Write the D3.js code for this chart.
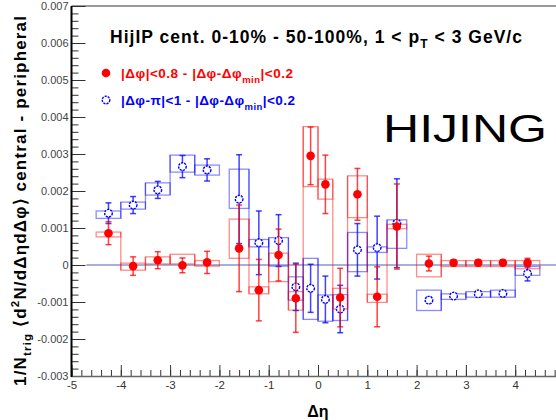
<!DOCTYPE html>
<html>
<head>
<meta charset="utf-8">
<script src="https://cdn.jsdelivr.net/npm/d3@7/dist/d3.min.js"></script>
<style>
  html, body { margin: 0; padding: 0; background: #fff; }
  svg { display: block; font-family: "Liberation Sans", Arial, Helvetica, sans-serif; }
</style>
</head>
<body>
<svg id="chart" width="556" height="420"></svg>
<script>
// Δη bins (low / high edges) and the point positions inside them
const etaLo  = [-4.5, -4.0, -3.5, -3.0, -2.5, -1.8, -1.4, -1.0, -0.6, -0.3, 0.0, 0.3, 0.6, 1.0, 1.4, 2.0, 2.5, 3.0, 3.5, 4.0];
const etaHi  = [-4.0, -3.5, -3.0, -2.5, -2.0, -1.4, -1.0, -0.6, -0.3, 0.0, 0.3, 0.6, 1.0, 1.4, 1.8, 2.5, 3.0, 3.5, 4.0, 4.5];
const etaPts = [-4.25, -3.75, -3.25, -2.75, -2.25, -1.6, -1.2, -0.8, -0.45, -0.15, 0.15, 0.45, 0.8, 1.2, 1.6, 2.25, 2.75, 3.25, 3.75, 4.25];

// |Δφ|<0.8 (near side) : value, stat. error, systematic band low / high
const nearVal = [0.00086, -0.00003, 0.00013, -0.00001, 0.00007, 0.00045, -0.00068, 0.00027, -0.00090, 0.00295, 0.00218, -0.00088, 0.00191, -0.00086, 0.00104, 0.00004, 0.00006, 0.00006, 0.00006, 0.00006];
const nearErr = [0.00031, 0.00025, 0.00023, 0.00020, 0.00030, 0.00117, 0.00083, 0.00070, 0.00092, 0.00078, 0.00079, 0.00079, 0.00070, 0.00081, 0.00115, 0.00020, 0.00008, 0.00008, 0.00008, 0.00012];
const nearSysLo = [0.00076, -0.00014, 0.00003, 0.00003, -0.00003, 0.00018, -0.00078, -0.00045, -0.00122, 0.00212, 0.00178, -0.00119, 0.00128, -0.00101, 0.00098, -0.00032, -0.00004, -0.00004, -0.00004, -0.00010];
const nearSysHi = [0.00089, 0.00005, 0.00022, 0.00029, 0.00012, 0.00124, -0.00059, 0.00032, -0.00072, 0.00374, 0.00232, -0.00063, 0.00241, -0.00079, 0.00110, 0.00029, 0.00012, 0.00012, 0.00012, 0.00012];

// |Δφ-π|<1 (away side)
const awayVal = [0.00140, 0.00162, 0.00203, 0.00266, 0.00257, 0.00178, 0.00060, 0.00066, -0.00059, -0.00063, -0.00093, -0.00119, 0.00041, 0.00047, 0.00113, -0.00095, -0.00084, -0.00078, -0.00077, -0.00023];
const awayErr = [0.00028, 0.00023, 0.00023, 0.00030, 0.00030, 0.00120, 0.00086, 0.00070, 0.00064, 0.00065, 0.00063, 0.00064, 0.00071, 0.00085, 0.00120, 0.00008, 0.00006, 0.00006, 0.00006, 0.00020];
const awaySysLo = [0.00126, 0.00151, 0.00189, 0.00251, 0.00243, 0.00153, 0.00049, -0.00003, -0.00095, -0.00147, -0.00152, -0.00150, -0.00018, 0.00034, 0.00045, -0.00123, -0.00093, -0.00087, -0.00087, -0.00028];
const awaySysHi = [0.00146, 0.00170, 0.00222, 0.00297, 0.00270, 0.00259, 0.00069, 0.00074, -0.00032, 0.00018, -0.00081, -0.00080, 0.00088, 0.00049, 0.00122, -0.00068, -0.00078, -0.00072, -0.00068, -0.00004];

// axis ticks
const xTicks = [-5, -4, -3, -2, -1, 0, 1, 2, 3, 4];
const yTicks = [-0.003, -0.002, -0.001, 0, 0.001, 0.002, 0.003, 0.004, 0.005, 0.006, 0.007];
const zeroLineEta = [-4.7, 5];

const svg = d3.select("#chart");
const x = d3.scaleLinear().domain([-5, 5]).range([71.5, 564.5]);
const y = d3.scaleLinear().domain([-0.003, 0.007]).range([376, 6]);

const RED = "#ff0000", BLUE = "#0000ff";

// ---- axes ----
const xMinor = d3.range(-5, 5.001, 0.2).map(v => +v.toFixed(1));
const yMinor = d3.range(-0.003, 0.00700001, 0.0002).map(v => +v.toFixed(4));

const gx = svg.append("g").attr("transform", "translate(0,376)");
gx.call(d3.axisBottom(x).tickValues(xMinor).tickSizeInner(-6).tickSizeOuter(0).tickFormat(""));
gx.call(g => g.select(".domain").remove());
const gx2 = svg.append("g").attr("transform", "translate(0,376)");
gx2.call(d3.axisBottom(x).tickValues(xTicks).tickSizeInner(-11).tickSizeOuter(0).tickPadding(5)
  .tickFormat(d => String(d)));
gx2.call(g => g.select(".domain").remove());
svg.selectAll("g .tick line").attr("stroke", "#333").attr("stroke-width", 1);
gx2.selectAll("text").attr("font-size", 11.5).attr("fill", "#333");

const gy = svg.append("g").attr("transform", "translate(71.5,0)");
gy.call(d3.axisLeft(y).tickValues(yMinor).tickSizeInner(-7).tickSizeOuter(0).tickFormat(""));
gy.call(g => g.select(".domain").remove());
const gy2 = svg.append("g").attr("transform", "translate(71.5,0)");
gy2.call(d3.axisLeft(y).tickValues(yTicks).tickSizeInner(-14).tickSizeOuter(0).tickPadding(3)
  .tickFormat(d => d === 0 ? "0" : d.toFixed(3)));
gy2.call(g => g.select(".domain").remove());
gy.selectAll(".tick line").attr("stroke", "#333");
gy2.selectAll(".tick line").attr("stroke", "#333");
gy2.selectAll("text").attr("font-size", 11).attr("fill", "#444");

// frame lines
svg.append("line").attr("x1", 71.5).attr("x2", 556).attr("y1", 376.5).attr("y2", 376.5)
  .attr("stroke", "#666").attr("stroke-width", 1.5);
svg.append("line").attr("x1", 71.5).attr("x2", 556).attr("y1", 6).attr("y2", 6)
  .attr("stroke", "#333").attr("stroke-width", 1);
svg.append("line").attr("x1", 71.5).attr("x2", 71.5).attr("y1", 6).attr("y2", 377)
  .attr("stroke", "#000").attr("stroke-width", 2);

// zero reference line
svg.append("line")
  .attr("x1", x(zeroLineEta[0])).attr("x2", x(zeroLineEta[1]))
  .attr("y1", y(0)).attr("y2", y(0))
  .attr("stroke", "#5060b8").attr("stroke-width", 1.2);

// ---- systematic boxes: per-bin outline plus step connectors between adjacent bins ----
function drawSys(lo, hi, color) {
  const g = svg.append("g").attr("fill", "none").attr("stroke", color)
    .attr("stroke-opacity", 0.45).attr("stroke-width", 1.3);
  g.selectAll("rect").data(etaLo.map((_, i) => i)).join("rect")
    .attr("x", i => x(etaLo[i])).attr("width", i => x(etaHi[i]) - x(etaLo[i]))
    .attr("y", i => y(hi[i])).attr("height", i => y(lo[i]) - y(hi[i]));
  const joins = d3.range(etaLo.length - 1).filter(i => Math.abs(etaHi[i] - etaLo[i + 1]) < 1e-9);
  g.selectAll("line").data(joins).join("line")
    .attr("x1", i => x(etaHi[i])).attr("x2", i => x(etaHi[i]))
    .attr("y1", i => y(Math.max(hi[i], hi[i + 1], lo[i], lo[i + 1])))
    .attr("y2", i => y(Math.min(hi[i], hi[i + 1], lo[i], lo[i + 1])));
}
drawSys(awaySysLo, awaySysHi, BLUE);
drawSys(nearSysLo, nearSysHi, RED);

// ---- statistical error bars and markers ----
function drawPoints(val, err, color, open) {
  const g = svg.append("g");
  const idx = val.map((_, i) => i);
  const eg = g.append("g").attr("stroke", color).attr("stroke-opacity", 0.75).attr("stroke-width", 1.5);
  eg.selectAll("line.bar").data(idx).join("line").attr("class", "bar")
    .attr("x1", i => x(etaPts[i])).attr("x2", i => x(etaPts[i]))
    .attr("y1", i => y(val[i] + err[i])).attr("y2", i => y(val[i] - err[i]));
  eg.selectAll("line.capT").data(idx).join("line").attr("class", "capT")
    .attr("x1", i => x(etaPts[i]) - 3).attr("x2", i => x(etaPts[i]) + 3)
    .attr("y1", i => y(val[i] + err[i])).attr("y2", i => y(val[i] + err[i]));
  eg.selectAll("line.capB").data(idx).join("line").attr("class", "capB")
    .attr("x1", i => x(etaPts[i]) - 3).attr("x2", i => x(etaPts[i]) + 3)
    .attr("y1", i => y(val[i] - err[i])).attr("y2", i => y(val[i] - err[i]));
  g.selectAll("circle").data(idx).join("circle")
    .attr("cx", i => x(etaPts[i])).attr("cy", i => y(val[i]))
    .attr("r", open ? 3.8 : 4.3)
    .attr("fill", open ? "#fff" : color)
    .attr("stroke", color).attr("stroke-width", open ? 1.4 : 0)
    .attr("stroke-dasharray", open ? "2.2,1" : null);
}
drawPoints(awayVal, awayErr, BLUE, true);
drawPoints(nearVal, nearErr, RED, false);

// ---- texts ----
const title = svg.append("text").attr("x", 110).attr("y", 43)
  .attr("font-size", 17.5).attr("font-weight", "bold").attr("fill", "#000")
  .attr("textLength", 412).attr("lengthAdjust", "spacing");
title.append("tspan").text("HijIP cent. 0-10% - 50-100%, 1 < p");
title.append("tspan").attr("dy", 5).attr("font-size", 12).text("T");
title.append("tspan").attr("dy", -5).text(" < 3 GeV/c");

// legend
svg.append("circle").attr("cx", 106).attr("cy", 73).attr("r", 4.3).attr("fill", RED);
const l1 = svg.append("text").attr("x", 121).attr("y", 78)
  .attr("font-size", 13.5).attr("font-weight", "bold").attr("fill", RED)
  .attr("textLength", 172).attr("lengthAdjust", "spacing");
l1.append("tspan").text("|Δφ|<0.8 - |Δφ-Δφ");
l1.append("tspan").attr("dy", 5).attr("font-size", 9.5).text("min");
l1.append("tspan").attr("dy", -5).text("|<0.2");

svg.append("circle").attr("cx", 106).attr("cy", 100).attr("r", 3.8).attr("fill", "#fff")
  .attr("stroke", BLUE).attr("stroke-width", 1.4).attr("stroke-dasharray", "2.2,1");
const l2 = svg.append("text").attr("x", 121).attr("y", 105)
  .attr("font-size", 13.5).attr("font-weight", "bold").attr("fill", BLUE)
  .attr("textLength", 174).attr("lengthAdjust", "spacing");
l2.append("tspan").text("|Δφ-π|<1 - |Δφ-Δφ");
l2.append("tspan").attr("dy", 5).attr("font-size", 9.5).text("min");
l2.append("tspan").attr("dy", -5).text("|<0.2");

svg.append("text").attr("x", 383).attr("y", 142)
  .attr("font-size", 39).attr("fill", "#000")
  .attr("textLength", 164).attr("lengthAdjust", "spacingAndGlyphs")
  .text("HIJING");

// axis titles
const yt = svg.append("text").attr("transform", "translate(26,201) rotate(-90)")
  .attr("text-anchor", "middle").attr("font-size", 17).attr("font-weight", "bold").attr("fill", "#000")
  .attr("textLength", 370).attr("lengthAdjust", "spacing");
yt.append("tspan").text("1/N");
yt.append("tspan").attr("dy", 5).attr("font-size", 11.5).text("trig");
yt.append("tspan").attr("dy", -5).text(" ⟨d");
yt.append("tspan").attr("dy", -7).attr("font-size", 11.5).text("2");
yt.append("tspan").attr("dy", 7).text("N/dΔηdΔφ⟩ central - peripheral");

svg.append("text").attr("x", 318).attr("y", 417).attr("text-anchor", "middle")
  .attr("font-size", 16).attr("font-weight", "bold").attr("fill", "#000").text("Δη");
</script>
</body>
</html>
